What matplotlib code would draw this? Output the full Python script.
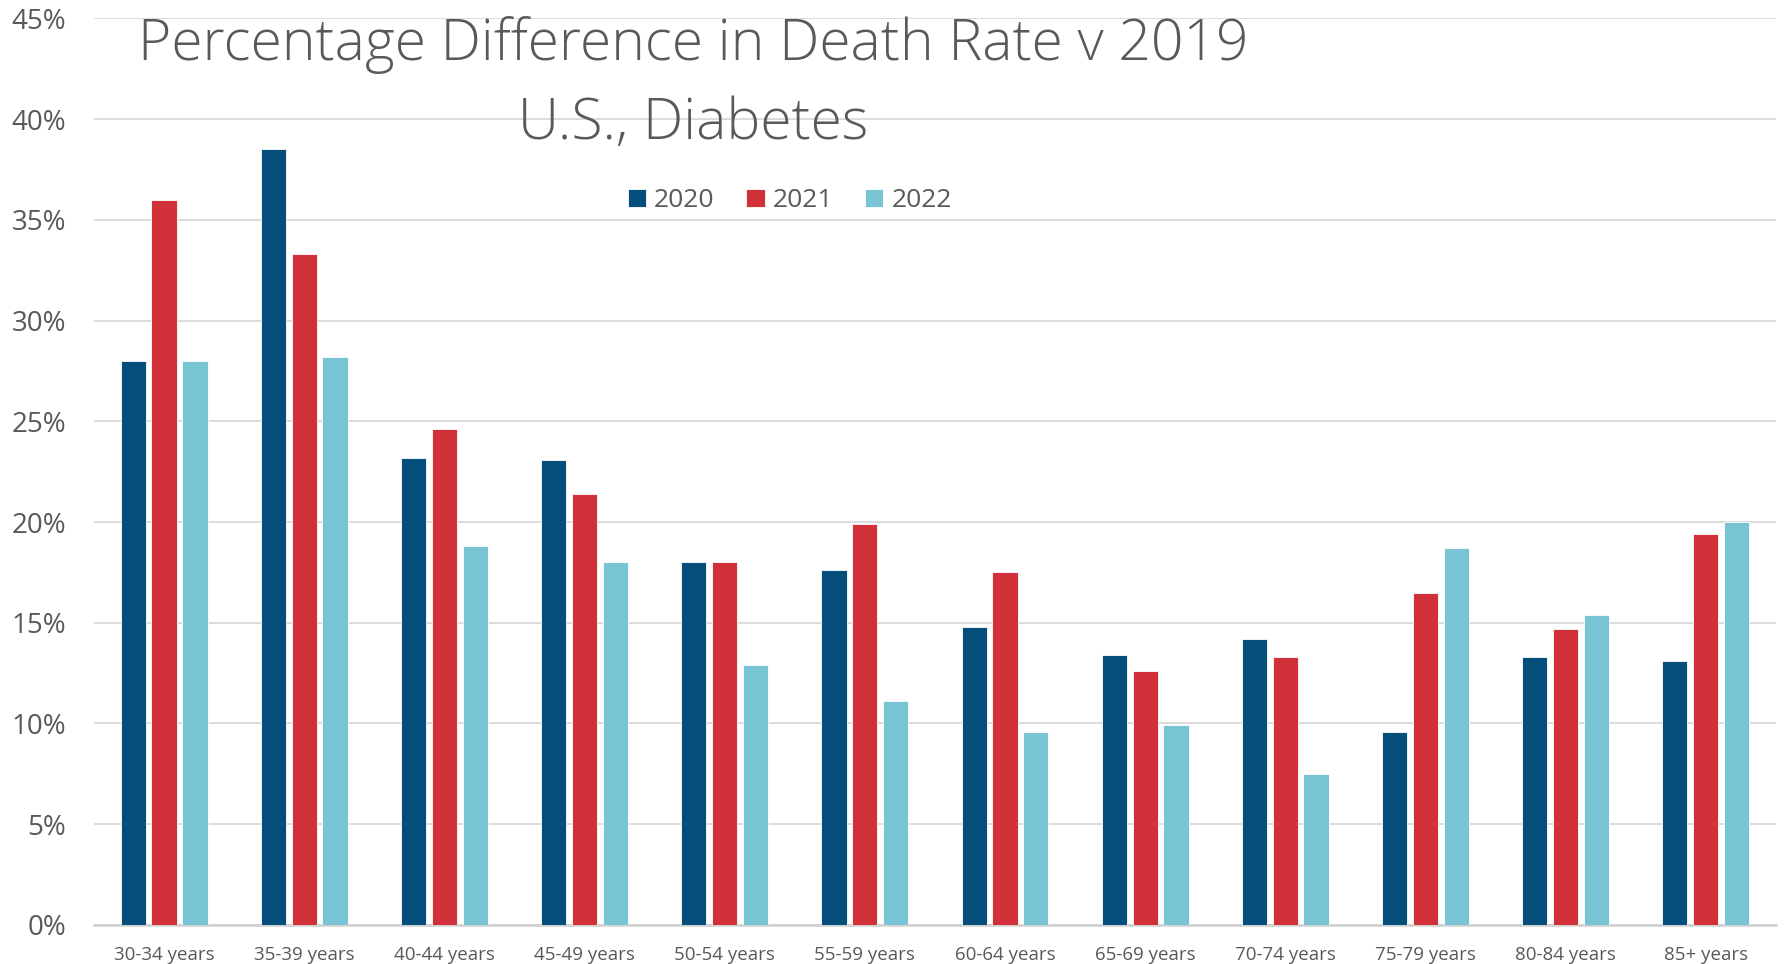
import matplotlib.pyplot as plt
import numpy as np
from matplotlib.ticker import PercentFormatter

plt.rcParams['font.family'] = ['Open Sans', 'DejaVu Sans']

age_groups = ['30-34 years', '35-39 years', '40-44 years', '45-49 years',
              '50-54 years', '55-59 years', '60-64 years', '65-69 years',
              '70-74 years', '75-79 years', '80-84 years', '85+ years']
years = ['2020', '2021', '2022']
pct_2020 = [28.0, 38.5, 23.2, 23.1, 18.0, 17.6, 14.8, 13.4, 14.2, 9.6, 13.3, 13.1]
pct_2021 = [36.0, 33.3, 24.6, 21.4, 18.0, 19.9, 17.5, 12.6, 13.3, 16.5, 14.7, 19.4]
pct_2022 = [28.0, 28.2, 18.8, 18.0, 12.9, 11.1, 9.6, 9.9, 7.5, 18.7, 15.4, 20.0]
colors = ['#044E7C', '#D3313A', '#78C4D4']

fig = plt.figure(figsize=(17.91, 9.64), dpi=100)
ax = fig.add_axes([0.0525, 0.0405, 0.939, 0.9405])

x = np.arange(len(age_groups))
w = 0.18
step = 0.22
for i, (vals, c, lab) in enumerate(zip([pct_2020, pct_2021, pct_2022], colors, years)):
    ax.bar(x + (i - 1) * step, vals, width=w, color=c, label=lab,
           edgecolor='white', linewidth=0.6, zorder=3)

ax.set_xlim(-0.5, len(age_groups) - 0.5)
ax.set_ylim(0, 45)
ax.set_yticks(np.arange(0, 46, 5))
ax.yaxis.set_major_formatter(PercentFormatter(decimals=0))
ax.set_xticks(x)
ax.set_xticklabels(age_groups)
ax.grid(axis='y', color='#D9D9D9', linewidth=1.3, zorder=0)
for s in ['top', 'right', 'left']:
    ax.spines[s].set_visible(False)
ax.spines['bottom'].set_color('#D0D0D0')
ax.spines['bottom'].set_linewidth(1.8)
ax.tick_params(axis='both', length=0)
ax.tick_params(axis='y', labelsize=20, labelcolor='#595959', pad=20)
ax.tick_params(axis='x', labelsize=13.5, labelcolor='#595959', pad=15)

fig.text(0.387, 0.953, 'Percentage Difference in Death Rate v 2019',
         ha='center', va='center', fontsize=41, color='#595959', fontweight='light')
fig.text(0.387, 0.871, 'U.S., Diabetes',
         ha='center', va='center', fontsize=41, color='#595959', fontweight='light')

ax.legend(loc='center', bbox_to_anchor=(0.441, 0.792), bbox_transform=fig.transFigure,
          ncol=3, frameon=False, fontsize=19, labelcolor='#595959',
          handlelength=0.7, handleheight=0.7, handletextpad=0.3, columnspacing=1.2)

fig.savefig('out.png', dpi=100)
